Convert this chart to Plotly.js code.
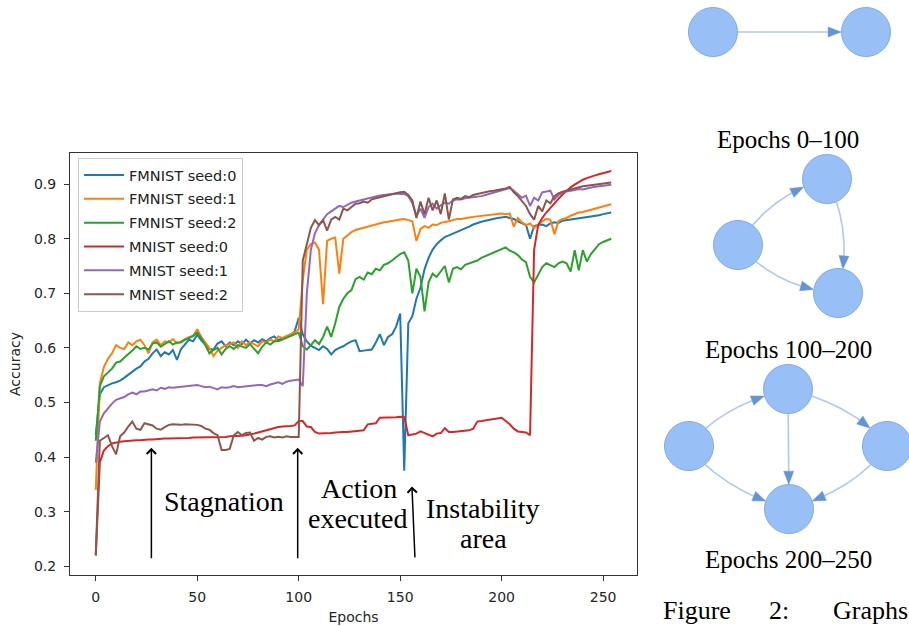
<!DOCTYPE html>
<html>
<head>
<meta charset="utf-8">
<script src="https://cdn.plot.ly/plotly-3.0.1.min.js"></script>
<style>
html,body{margin:0;padding:0;background:#fff;}
#chart{width:909px;height:626px;}
</style>
</head>
<body>
<div id="chart"></div>
<script>
// ---------------- data (every 2nd epoch) ----------------
const epochs = [];
for (let e = 0; e <= 254; e += 2) epochs.push(e);

const seriesNames = ["FMNIST seed:0", "FMNIST seed:1", "FMNIST seed:2", "MNIST seed:0", "MNIST seed:1", "MNIST seed:2"];

const fmnistSeed0 = [
0.44,0.515,0.528,0.532,0.535,0.537,0.54,0.545,0.551,0.556,
0.562,0.566,0.575,0.58,0.59,0.597,0.585,0.592,0.588,0.596,
0.578,0.598,0.606,0.615,0.612,0.624,0.614,0.605,0.598,0.597,
0.608,0.612,0.603,0.61,0.605,0.612,0.607,0.615,0.608,0.614,
0.61,0.616,0.612,0.618,0.621,0.614,0.618,0.62,0.624,0.63,
0.655,0.625,0.612,0.604,0.6,0.596,0.603,0.598,0.588,0.596,
0.6,0.603,0.608,0.612,0.614,0.594,0.595,0.596,0.597,0.61,
0.625,0.605,0.62,0.625,0.639,0.663,0.375,0.645,0.658,0.69,
0.71,0.744,0.765,0.78,0.79,0.797,0.803,0.806,0.809,0.812,
0.815,0.818,0.822,0.826,0.829,0.831,0.833,0.835,0.837,0.838,
0.839,0.84,0.838,0.836,0.832,0.828,0.825,0.80,0.823,0.825,
0.826,0.823,0.828,0.83,0.829,0.833,0.834,0.835,0.836,0.838,
0.839,0.84,0.841,0.842,0.843,0.845,0.846,0.848];

const fmnistSeed1 = [
0.34,0.535,0.565,0.58,0.59,0.605,0.6,0.598,0.61,0.605,
0.612,0.615,0.605,0.59,0.61,0.615,0.605,0.612,0.61,0.616,
0.608,0.612,0.615,0.62,0.622,0.634,0.62,0.61,0.6,0.585,
0.595,0.6,0.605,0.607,0.61,0.6,0.612,0.605,0.61,0.607,
0.603,0.612,0.61,0.615,0.612,0.621,0.618,0.622,0.625,0.628,
0.634,0.724,0.78,0.79,0.793,0.78,0.68,0.796,0.8,0.802,
0.736,0.80,0.806,0.812,0.816,0.818,0.82,0.822,0.825,0.826,
0.828,0.83,0.831,0.833,0.834,0.835,0.836,0.834,0.832,0.796,
0.818,0.823,0.82,0.826,0.825,0.829,0.83,0.832,0.834,0.836,
0.836,0.838,0.839,0.84,0.841,0.842,0.842,0.843,0.844,0.845,
0.846,0.845,0.846,0.822,0.838,0.83,0.825,0.828,0.82,0.826,
0.832,0.836,0.835,0.808,0.832,0.836,0.838,0.842,0.845,0.848,
0.849,0.851,0.853,0.855,0.857,0.859,0.861,0.863];

const fmnistSeed2 = [
0.43,0.53,0.548,0.555,0.562,0.573,0.575,0.582,0.588,0.595,
0.603,0.598,0.6,0.597,0.608,0.61,0.602,0.607,0.612,0.606,
0.61,0.61,0.615,0.618,0.622,0.628,0.618,0.605,0.59,0.596,
0.6,0.588,0.598,0.603,0.598,0.605,0.603,0.6,0.607,0.598,
0.59,0.602,0.61,0.606,0.612,0.612,0.615,0.618,0.621,0.625,
0.628,0.603,0.597,0.605,0.614,0.607,0.62,0.639,0.62,0.645,
0.675,0.69,0.70,0.706,0.726,0.73,0.725,0.738,0.735,0.745,
0.742,0.752,0.755,0.76,0.766,0.772,0.775,0.76,0.70,0.745,
0.73,0.667,0.72,0.736,0.73,0.74,0.75,0.72,0.745,0.748,
0.744,0.752,0.755,0.757,0.76,0.765,0.768,0.772,0.775,0.778,
0.78,0.784,0.778,0.775,0.77,0.762,0.757,0.73,0.72,0.735,
0.748,0.755,0.752,0.748,0.755,0.758,0.755,0.74,0.779,0.742,
0.779,0.758,0.772,0.782,0.79,0.794,0.797,0.80];

const mnistSeed0 = [
0.22,0.39,0.412,0.42,0.425,0.427,0.428,0.429,0.43,0.43,
0.431,0.431,0.432,0.432,0.432,0.433,0.433,0.434,0.434,0.434,
0.435,0.435,0.435,0.435,0.436,0.436,0.436,0.436,0.437,0.437,
0.437,0.437,0.437,0.438,0.438,0.438,0.439,0.44,0.441,0.443,
0.445,0.447,0.45,0.452,0.453,0.455,0.456,0.456,0.457,0.458,
0.466,0.466,0.456,0.455,0.446,0.443,0.443,0.444,0.444,0.445,
0.446,0.446,0.446,0.447,0.447,0.448,0.449,0.46,0.461,0.462,
0.472,0.472,0.473,0.473,0.473,0.474,0.473,0.44,0.441,0.443,
0.447,0.444,0.44,0.438,0.443,0.444,0.453,0.446,0.446,0.447,
0.447,0.448,0.449,0.452,0.465,0.466,0.467,0.468,0.469,0.47,
0.472,0.466,0.46,0.452,0.447,0.446,0.445,0.44,0.78,0.825,
0.838,0.848,0.857,0.865,0.873,0.881,0.888,0.894,0.899,0.904,
0.908,0.911,0.914,0.916,0.918,0.92,0.922,0.924];

const mnistSeed1 = [
0.39,0.465,0.48,0.49,0.498,0.505,0.508,0.51,0.515,0.518,
0.515,0.52,0.52,0.522,0.524,0.522,0.527,0.525,0.528,0.527,
0.528,0.529,0.53,0.53,0.532,0.532,0.53,0.528,0.529,0.526,
0.524,0.528,0.527,0.528,0.53,0.528,0.529,0.529,0.53,0.531,
0.532,0.532,0.53,0.533,0.535,0.537,0.534,0.538,0.54,0.541,
0.542,0.53,0.70,0.78,0.81,0.825,0.835,0.845,0.85,0.855,
0.86,0.858,0.862,0.866,0.868,0.87,0.871,0.874,0.876,0.877,
0.879,0.88,0.881,0.882,0.883,0.882,0.882,0.878,0.865,0.842,
0.855,0.838,0.858,0.864,0.855,0.861,0.866,0.864,0.87,0.872,
0.872,0.874,0.875,0.876,0.876,0.878,0.88,0.882,0.885,0.887,
0.889,0.891,0.893,0.888,0.882,0.875,0.879,0.86,0.875,0.87,
0.885,0.887,0.888,0.872,0.88,0.885,0.886,0.887,0.889,0.891,
0.89,0.892,0.894,0.895,0.896,0.897,0.898,0.899];

const mnistSeed2 = [
0.22,0.43,0.435,0.44,0.42,0.405,0.438,0.445,0.456,0.465,
0.452,0.45,0.462,0.46,0.458,0.452,0.45,0.455,0.459,0.46,
0.459,0.459,0.46,0.46,0.459,0.459,0.457,0.452,0.45,0.444,
0.44,0.413,0.413,0.415,0.44,0.446,0.44,0.444,0.445,0.43,
0.435,0.432,0.437,0.438,0.436,0.437,0.436,0.438,0.437,0.437,
0.437,0.76,0.79,0.82,0.834,0.825,0.834,0.815,0.835,0.84,
0.835,0.855,0.852,0.858,0.864,0.865,0.868,0.866,0.872,0.874,
0.876,0.878,0.88,0.882,0.884,0.885,0.886,0.88,0.87,0.838,
0.868,0.845,0.875,0.852,0.87,0.845,0.883,0.835,0.872,0.875,
0.873,0.878,0.876,0.88,0.882,0.884,0.886,0.887,0.888,0.889,
0.89,0.892,0.895,0.885,0.878,0.868,0.86,0.845,0.835,0.86,
0.85,0.87,0.865,0.878,0.883,0.886,0.888,0.89,0.893,0.895,
0.896,0.897,0.898,0.899,0.9,0.901,0.902,0.903];

const seriesValues = [fmnistSeed0, fmnistSeed1, fmnistSeed2, mnistSeed0, mnistSeed1, mnistSeed2];

const xTickVals = [0, 50, 100, 150, 200, 250];
const yTickVals = [0.2, 0.3, 0.4, 0.5, 0.6, 0.7, 0.8, 0.9];

// annotation arrows: epoch of head, head accuracy, epoch of tail, tail accuracy
const arrowHeadX = [27.4, 99.5, 155.8];
const arrowHeadY = [0.417, 0.417, 0.346];
const arrowTailX = [27.4, 99.5, 157.3];
const arrowTailY = [0.212, 0.212, 0.2135];

// right-hand graph diagrams (node centres in page pixels) and edges [from, to, curved]
const graph1X = [713, 866];
const graph1Y = [32, 32];
const graph1Edges = [[0, 1, 0]];
const graph2X = [738, 827, 838];
const graph2Y = [245, 179, 293];
const graph2Edges = [[0, 1, 1], [0, 2, 1], [1, 2, 1]];
const graph3X = [689, 788, 887, 789];
const graph3Y = [446, 389, 446, 509];
const graph3Edges = [[0, 1, 1], [1, 2, 1], [1, 3, 0], [0, 3, 1], [2, 3, 1]];

const captions = ["Epochs 0\u2013100", "Epochs 100\u2013200", "Epochs 200\u2013250"];

// ---------------- styles ----------------
const W = 909, H = 626;
const colors = ["#1f77b4", "#ff7f0e", "#2ca02c", "#d62728", "#9467bd", "#8c564b"];
const sansFont = "DejaVu Sans, sans-serif";
const serifFont = "Liberation Serif, Times New Roman, serif";
const plotL = 70, plotR = 637, plotT = 153, plotB = 575;

const traces = seriesNames.map((name, i) => ({
  type: "scatter", mode: "lines", name: name, legendgroup: "g" + i,
  x: epochs, y: seriesValues[i],
  line: {color: colors[i], width: 2},
  hoverinfo: "skip"
}));

// ----- diagrams -----
const NODE_R = 24.5, BEND = 22, HEAD_LEN = 13, HEAD_HW = 5;
function addGraph(nx, ny, edges) {
  const cx = nx.reduce((a, b) => a + b, 0) / nx.length;
  const cy = ny.reduce((a, b) => a + b, 0) / ny.length;
  edges.forEach(([s, t, b]) => {
    const x0 = nx[s], y0 = ny[s], x2 = nx[t], y2 = ny[t];
    const mx = (x0 + x2) / 2, my = (y0 + y2) / 2;
    let ox = mx - cx, oy = my - cy;
    const ol = Math.hypot(ox, oy) || 1;
    const x1 = mx + b * BEND * ox / ol, y1 = my + b * BEND * oy / ol;
    const pts = [];
    for (let i = 0; i <= 400; i++) {
      const u = i / 400;
      pts.push([(1 - u) * (1 - u) * x0 + 2 * (1 - u) * u * x1 + u * u * x2,
                (1 - u) * (1 - u) * y0 + 2 * (1 - u) * u * y1 + u * u * y2]);
    }
    let si = 0;
    while (si < pts.length && Math.hypot(pts[si][0] - x0, pts[si][1] - y0) < NODE_R) si++;
    let ti = pts.length - 1;
    while (ti > 0 && Math.hypot(pts[ti][0] - x2, pts[ti][1] - y2) < NODE_R) ti--;
    const tip = pts[ti];
    let bi = ti;
    while (bi > si && Math.hypot(pts[bi][0] - tip[0], pts[bi][1] - tip[1]) < HEAD_LEN) bi--;
    const base = pts[bi];
    const seg = pts.slice(si, bi + 1);
    traces.push({type: "scatter", mode: "lines", xaxis: "x2", yaxis: "y2",
      x: seg.map(p => p[0]), y: seg.map(p => p[1]),
      line: {color: "#b0c9ee", width: 1.6}, showlegend: false, hoverinfo: "skip"});
    const dx = tip[0] - base[0], dy = tip[1] - base[1], dl = Math.hypot(dx, dy) || 1;
    const nxv = -dy / dl, nyv = dx / dl;
    traces.push({type: "scatter", mode: "lines", xaxis: "x2", yaxis: "y2", fill: "toself",
      x: [tip[0], base[0] + nxv * HEAD_HW, base[0] - nxv * HEAD_HW, tip[0]],
      y: [tip[1], base[1] + nyv * HEAD_HW, base[1] - nyv * HEAD_HW, tip[1]],
      fillcolor: "#6494d8", line: {color: "#6494d8", width: 0.5},
      showlegend: false, hoverinfo: "skip"});
  });
  traces.push({type: "scatter", mode: "markers", xaxis: "x2", yaxis: "y2",
    x: nx, y: ny,
    marker: {size: 49, color: "#99c0f6", line: {color: "#80aae8", width: 1}},
    showlegend: false, hoverinfo: "skip"});
}
addGraph(graph1X, graph1Y, graph1Edges);
addGraph(graph2X, graph2Y, graph2Edges);
addGraph(graph3X, graph3Y, graph3Edges);

// ----- annotations -----
const px = v => v / W, py = v => 1 - v / H;
const annotations = [];
arrowHeadX.forEach((hx, i) => {
  annotations.push({xref: "x", yref: "y", axref: "x", ayref: "y",
    x: hx, y: arrowHeadY[i], ax: arrowTailX[i], ay: arrowTailY[i],
    text: "", showarrow: true, arrowhead: 4, arrowsize: 1.2, arrowwidth: 1.5,
    arrowcolor: "#000", standoff: 0, startstandoff: 0});
});
const serifText = (t, x, y, size, xa) => ({xref: "paper", yref: "paper", x: px(x), y: py(y),
  text: t, showarrow: false, xanchor: xa || "center", yanchor: "middle",
  font: {family: serifFont, size: size, color: "#000"}});
annotations.push(serifText("Stagnation", 224, 501, 28));
annotations.push(serifText("Action", 359, 488, 28));
annotations.push(serifText("executed", 358, 518, 28));
annotations.push(serifText("Instability", 483, 508, 28));
annotations.push(serifText("area", 483, 538, 28));
annotations.push(serifText(captions[0], 788, 139, 25));
annotations.push(serifText(captions[1], 788, 349, 25));
annotations.push(serifText(captions[2], 788, 559, 25));
annotations.push(serifText("Figure", 661, 610, 26, "left"));
annotations.push(serifText("2:", 767, 610, 26, "left"));
annotations.push(serifText("Graphs", 831, 610, 26, "left"));

const axisCommon = {
  showgrid: false, zeroline: false, showline: true, mirror: true,
  linecolor: "#333", linewidth: 1, ticks: "outside", ticklen: 5, tickwidth: 1,
  tickcolor: "#333", tickfont: {family: sansFont, size: 14, color: "#262626"}
};

const layout = {
  width: W, height: H,
  margin: {l: 0, r: 0, t: 0, b: 0, pad: 0},
  paper_bgcolor: "#fff", plot_bgcolor: "#fff",
  showlegend: true,
  legend: {x: px(78), y: py(158), xanchor: "left", yanchor: "top",
    bgcolor: "rgba(255,255,255,0.85)", bordercolor: "#cccccc", borderwidth: 1,
    font: {family: sansFont, size: 14.5, color: "#222"}, itemwidth: 40,
    traceorder: "grouped", tracegroupgap: 2},
  xaxis: Object.assign({}, axisCommon, {
    domain: [plotL / W, plotR / W], range: [-12.7, 266.7], tickvals: xTickVals,
    ticklabelstandoff: 4,
    title: {text: "Epochs", font: {family: sansFont, size: 14, color: "#262626"}, standoff: 8}
  }),
  yaxis: Object.assign({}, axisCommon, {
    domain: [1 - plotB / H, 1 - plotT / H], range: [0.184, 0.957], tickvals: yTickVals,
    tickformat: ".1f", ticklabelstandoff: 5,
    title: {text: "Accuracy", font: {family: sansFont, size: 14, color: "#262626"}, standoff: 10}
  }),
  xaxis2: {domain: [640 / W, 1], range: [640, 909], visible: false, fixedrange: true, anchor: "y2"},
  yaxis2: {domain: [0, 1], range: [626, 0], visible: false, fixedrange: true, anchor: "x2"},
  annotations: annotations,
  hovermode: false
};

Plotly.newPlot("chart", traces, layout, {staticPlot: true, displayModeBar: false});
</script>
</body>
</html>
